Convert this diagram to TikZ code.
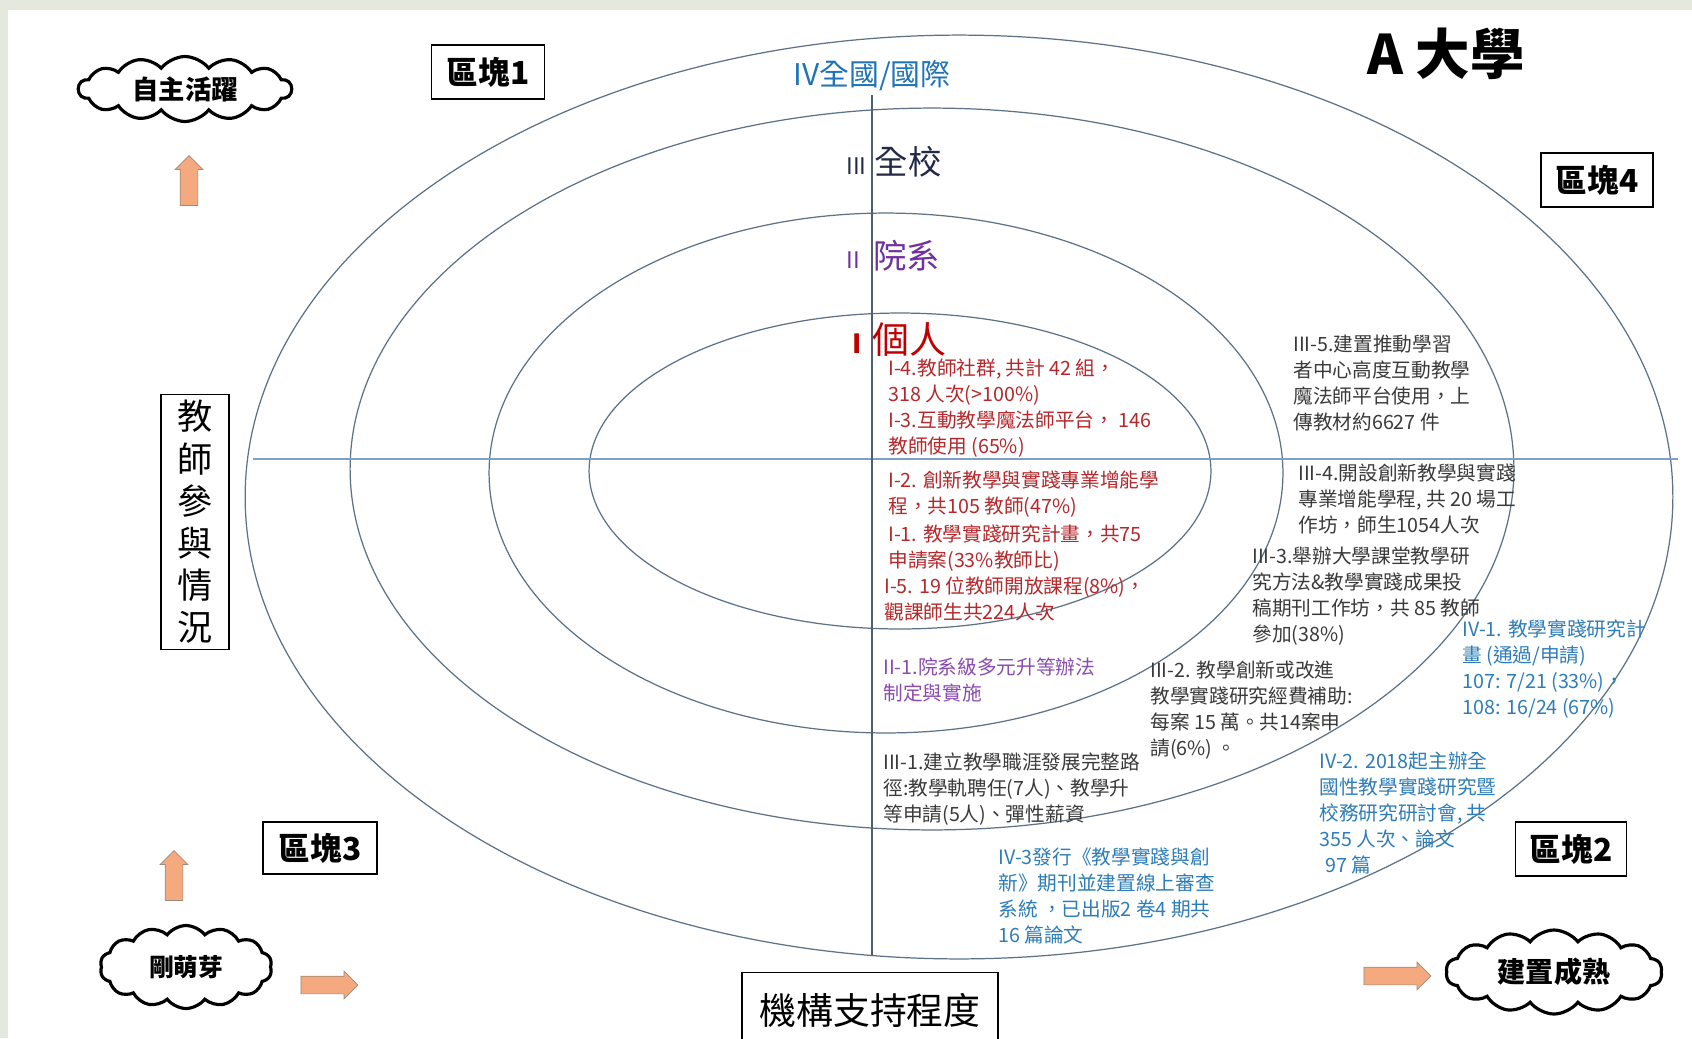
\documentclass[tikz,border=0pt]{standalone}
\usepackage{fontspec}
\setmainfont{Noto Sans CJK TC}
\usepackage{tikz}
\usetikzlibrary{shapes, arrows}
\usetikzlibrary{positioning}
\definecolor{paper}{HTML}{E4E8DD}
\definecolor{ringline}{HTML}{5D7286}
\definecolor{hline}{HTML}{7DA0C4}
\definecolor{vline}{HTML}{4F5F70}
\definecolor{onelab}{HTML}{C00000}
\definecolor{oneitem}{HTML}{B5282B}
\definecolor{twolab}{HTML}{7030A0}
\definecolor{twoitem}{HTML}{8A4BAF}
\definecolor{threelab}{HTML}{222A45}
\definecolor{threeitem}{HTML}{3A3A3A}
\definecolor{fourlab}{HTML}{1F74B8}
\definecolor{fouritem}{HTML}{2E7DB8}
\definecolor{arrowfill}{HTML}{F4A97E}
\definecolor{arrowline}{HTML}{A08A7A}
\tikzstyle{box} = [rectangle, draw = black, line width = 0.8pt, text centered,
  inner sep = 0, font = \fontsize{18}{18}\selectfont\bfseries]
\tikzstyle{puff} = [cloud, cloud puffs = 14, cloud puff arc = 105,
  cloud ignores aspect, draw = black, line width = 1.8pt, inner sep = 0]
\tikzstyle{blockarrow} = [single arrow, draw = arrowline, fill = arrowfill,
  inner sep = 0.17cm, single arrow head extend = 0.1cm]
\tikzstyle{item} = [align = left, anchor = north west, inner sep = 0,
  font = \fontsize{11.2}{14.8}\selectfont]
\tikzstyle{lvlab} = [anchor = west, inner sep = 0]
\tikzstyle{ring} = [draw = ringline, line width = 0.7pt]

\begin{document}
\begin{tikzpicture}[x = 0.02cm, y = -0.02cm]
      \clip (0, 0) rectangle (1692, 1038);
      \fill [paper] (0, 0) rectangle (1692, 1038);
      \fill [white] (8, 10) rectangle (1692, 1038);

      \draw [ring] (900, 471) ellipse [x radius = 6.22cm, y radius = 3.16cm];
      \draw [ring] (886, 473) ellipse [x radius = 7.94cm, y radius = 5.2cm];
      \draw [ring] (932, 469) ellipse [x radius = 11.64cm, y radius = 7.22cm];
      \draw [ring] (959, 497) ellipse [x radius = 14.28cm, y radius = 9.24cm];

      \coordinate (vtop) at (872, 95);
      \coordinate (vbot) at (872, 956);
      \coordinate (hleft) at (253, 459);
      \coordinate (hright) at (1678, 459);
      \draw [hline, line width = 0.9pt] (hleft) -- (hright);
      \draw [vline, line width = 0.7pt] (vtop) -- (vbot);

      \node [font = \fontsize{31}{31}\selectfont\bfseries] (title) at (1446, 54) {A 大學};

      \node [lvlab, text = fourlab, font = \fontsize{17}{17}\selectfont] (lab4) at (793, 76) {IV全國/國際};
      \node [lvlab, text = threelab, font = \fontsize{19}{19}\selectfont] (lab3) at (846, 162) {{\fontsize{13}{13}\selectfont III}\hspace{0.25em}全校};
      \node [lvlab, text = twolab, font = \fontsize{19}{19}\selectfont] (lab2) at (846, 256) {{\fontsize{13}{13}\selectfont II}\hspace{0.4em}院系};
      \node [lvlab, text = onelab, font = \fontsize{21}{21}\selectfont] (lab1) at (852, 340) {{\fontsize{15}{15}\selectfont\bfseries I}\hspace{0.3em}個人};

      \node [item, text = oneitem] (i4) at (888, 359) {I-4.教師社群, 共計 42 組，\\318 人次(>100\%)};
      \node [item, text = oneitem] (i3) at (888, 411) {I-3.互動教學魔法師平台， 146\\教師使用 (65\%)};
      \node [item, text = oneitem] (i2) at (888, 470) {I-2. 創新教學與實踐專業增能學\\程，共105 教師(47\%)};
      \node [item, text = oneitem] (i1) at (888, 524) {I-1. 教學實踐研究計畫，共75\\申請案(33\%教師比)};
      \node [item, text = oneitem] (i5) at (884, 576) {I-5. 19 位教師開放課程(8\%)，\\觀課師生共224人次};

      \node [item, text = twoitem] (ii1) at (883, 657) {II-1.院系級多元升等辦法\\制定與實施};

      \node [item, text = threeitem] (iii1) at (883, 752) {III-1.建立教學職涯發展完整路\\徑:教學軌聘任(7人)、教學升\\等申請(5人)、彈性薪資};
      \node [item, text = threeitem] (iii2) at (1150, 660) {III-2. 教學創新或改進\\教學實踐研究經費補助:\\每案 15 萬。共14案申\\請(6\%) 。};
      \node [item, text = threeitem] (iii3) at (1252, 547) {III-3.舉辦大學課堂教學研\\究方法\&教學實踐成果投\\稿期刊工作坊，共 85 教師\\參加(38\%)};
      \node [item, text = threeitem] (iii4) at (1298, 463) {III-4.開設創新教學與實踐\\專業增能學程, 共 20 場工\\作坊，師生1054人次};
      \node [item, text = threeitem] (iii5) at (1293, 335) {III-5.建置推動學習\\者中心高度互動教學\\魔法師平台使用，上\\傳教材約6627 件};

      \node [item, text = fouritem] (iv1) at (1462, 619) {IV-1. 教學實踐研究計\\畫 (通過/申請)\\107: 7/21 (33\%)，\\108: 16/24 (67\%)};
      \node [item, text = fouritem] (iv2) at (1319, 752) {IV-2. 2018起主辦全\\國性教學實踐研究暨\\校務研究研討會, 共\\355 人次、論文\\\hspace{0.3em}97 篇};
      \node [item, text = fouritem] (iv3) at (998, 847) {IV-3發行《教學實踐與創\\新》期刊並建置線上審查\\系統 ，已出版2 卷4 期共\\16 篇論文};

      \node [box, minimum width = 2.26cm, minimum height = 1.08cm] (blk1) at (488, 72) {區塊1};
      \node [box, minimum width = 2.24cm, minimum height = 1.08cm] (blk4) at (1597, 180) {區塊4};
      \node [box, minimum width = 2.28cm, minimum height = 1.04cm] (blk3) at (320, 848) {區塊3};
      \node [box, minimum width = 2.22cm, minimum height = 1.08cm] (blk2) at (1571, 849) {區塊2};
      \node [box, minimum width = 1.36cm, minimum height = 5.1cm, align = center,
        font = \fontsize{20}{24}\selectfont\mdseries] (teach) at (195, 522) {教\\師\\參\\與\\情\\況};
      \node [box, minimum width = 5.12cm, minimum height = 1.5cm,
        font = \fontsize{21}{21}\selectfont\mdseries] (inst) at (870, 1010) {機構支持程度};

      \node [puff, minimum width = 4.26cm, minimum height = 1.3cm,
        font = \fontsize{15}{15}\selectfont\bfseries] (active) at (185, 89) {自主活躍};
      \node [puff, minimum width = 3.44cm, minimum height = 1.66cm,
        font = \fontsize{14}{14}\selectfont\bfseries] (sprout) at (186, 967) {剛萌芽};
      \node [puff, minimum width = 4.32cm, minimum height = 1.68cm,
        font = \fontsize{16}{16}\selectfont\bfseries] (mature) at (1554, 972) {建置成熟};

      \node [blockarrow, rotate = 90, minimum height = 1cm] (up1) at (189, 185) {};
      \node [blockarrow, rotate = 90, minimum height = 1cm] (up2) at (174, 880) {};
      \node [blockarrow, minimum height = 1.14cm] (fwd1) at (325, 985) {};
      \node [blockarrow, minimum height = 1.34cm] (fwd2) at (1393, 976) {};
    \end{tikzpicture}
\end{document}
